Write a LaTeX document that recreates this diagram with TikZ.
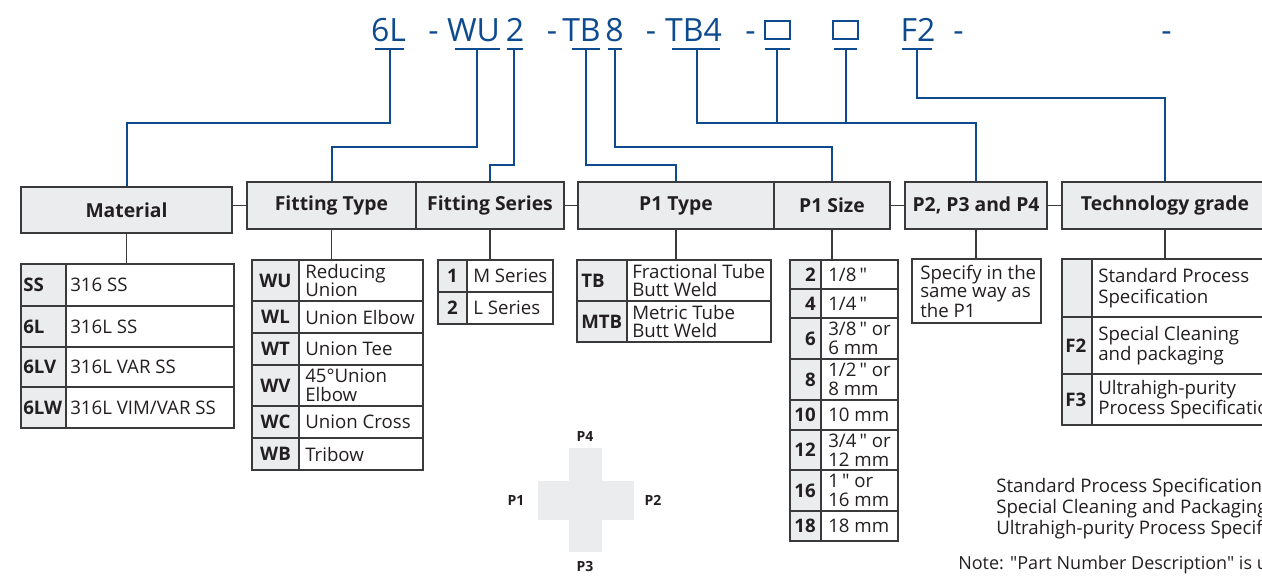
\documentclass[tikz,border=0pt]{standalone}
\usepackage{fontspec}
\setmainfont{Open Sans}[Ligatures=TeXOff]
\usepackage{tikz}
\usetikzlibrary{calc}
\definecolor{pn-blue}{HTML}{0D4A8E}
\definecolor{pn-line}{HTML}{3A3A3C}
\definecolor{pn-fill}{HTML}{EBECEE}
\definecolor{pn-text}{HTML}{231F20}

\tikzset{
  hdr/.style 2 args={draw=pn-line, fill=pn-fill, line width=1pt, minimum width=#1*0.75pt,
    minimum height=#2*0.75pt, inner sep=0pt, font=\fontsize{14.5}{17}\selectfont\bfseries, text=pn-text},
  bus/.style={pn-blue, line width=1.5pt},
  link/.style={pn-line, line width=0.9pt},
  cell/.style={draw=pn-line, line width=0.9pt},
  codecell/.style={cell, fill=pn-fill},
  code/.style={font=\fontsize{14}{14}\selectfont\bfseries, text=pn-text, inner sep=0pt},
  entry/.style={font=\fontsize{14}{14}\selectfont, text=pn-text, inner sep=0pt, align=left, anchor=west},
  pn/.style={font=\fontsize{24}{24}\selectfont, text=pn-blue, inner sep=0pt, anchor=base},
  pnbox/.style={draw=pn-blue, line width=1.5pt, minimum width=25*0.75pt, minimum height=18*0.75pt, inner sep=0pt},
  port/.style={font=\fontsize{10.5}{12}\selectfont\bfseries, text=pn-text, inner sep=0pt},
}

\begin{document}
\begin{tikzpicture}[x=0.75pt,y=-0.75pt]
  \useasboundingbox (0,0) rectangle (1262,576);
  \clip (0,0) rectangle (1262,576);

  % part number
  \node[pn] (pn-mat) at (388.5,41) {6L};
  \node[pn] (pn-d1) at (433.5,41) {-};
  \node[pn] (pn-ft) at (473.5,41) {WU};
  \node[pn] (pn-fs) at (515,41) {2};
  \node[pn] (pn-d2) at (552,41) {-};
  \node[pn] (pn-p1t) at (581.5,41) {TB};
  \node[pn] (pn-p1s) at (614.5,41) {8};
  \node[pn] (pn-d3) at (651,41) {-};
  \node[pn] (pn-p2) at (693.5,41) {TB4};
  \node[pn] (pn-d4) at (750.5,41) {-};
  \node[pnbox] (pn-p3) at (777.5,30) {};
  \node[pnbox] (pn-p4) at (845.5,30) {};
  \node[pn] (pn-tg) at (918,41) {F2};
  \node[pn] (pn-d5) at (958.5,41) {-};
  \node[pn] (pn-d6) at (1166.5,41) {-};

  \foreach \n/\xa/\xb/\xv in {mat/375/404/390, ft/455/500/477, fs/507/523/514, p1t/572/600/586,
      p1s/608/622/615, p2/672/720/697, p3/765/790/777, p4/834/857/846, tg/902/932/917} {
    \draw[bus] (\xa,49) -- (\xb,49);
    \coordinate (u-\n) at (\xv,49);
  }

  % headers
  \node[hdr={211}{46}] (mat) at (126.5,210) {Material};
  \node[hdr={169}{47}] (ft) at (331.5,205.5) {Fitting Type};
  \node[hdr={148}{47}] (fs) at (490,205.5) {Fitting Series};
  \node[hdr={196}{47}] (p1t) at (676,205.5) {P1 Type};
  \node[hdr={116}{47}] (p1s) at (832,205.5) {P1 Size};
  \node[hdr={142}{47}] (p2h) at (976,205.5) {P2, P3 and P4};
  \node[hdr={206}{47}] (tg) at (1165,205.5) {Technology grade};

  \draw[link] (ft.west) -- (ft.west -| mat.east);
  \draw[link] (fs.east) -- (p1t.west);
  \draw[link] (p1s.east) -- (p2h.west);
  \draw[link] (p2h.east) -- (tg.west);

  \draw[bus] (u-mat) -- ++(0,74) -| (mat.north);
  \draw[bus] (u-ft) -- ++(0,98) -| (ft.north);
  \draw[bus] (u-fs) -- ++(0,116) -| (fs.north);
  \draw[bus] (u-p1t) -- ++(0,116) -| (p1t.north);
  \draw[bus] (u-p1s) -- ++(0,98) -| (p1s.north);
  \draw[bus] (u-p2) -- ++(0,74) -| (p2h.north);
  \draw[bus] (u-p3) -- ++(0,74);
  \draw[bus] (u-p4) -- ++(0,74);
  \draw[bus] (u-tg) -- ++(0,49) -| (tg.north);

  \coordinate (mat-top) at (128,264);
  \coordinate (ft-top) at (331,260);
  \coordinate (fs-top) at (491,260);
  \coordinate (p1t-top) at (676,260);
  \coordinate (p1s-top) at (832,260);
  \coordinate (p2h-top) at (976,259);
  \coordinate (tg-top) at (1165,259);
  \foreach \n in {mat,ft,fs,p1t,p1s,p2h,tg}
    \draw[link] (\n.south) -- (\n.south |- \n-top);

  % material
  \foreach \ya/\yb/\cd/\tx [count=\i] in {264/306/SS/316 SS, 306/347/6L/316L SS,
      347/387/6LV/316L VAR SS, 387/428/6LW/{316L VIM/VAR SS}} {
    \draw[codecell] (21,\ya) rectangle (66,\yb);
    \draw[cell] (66,\ya) rectangle (234,\yb);
    \node[code, anchor=west] (mat-c\i) at (23,{(\ya+\yb)/2}) {\cd};
    \node[entry] (mat-e\i) at (70,{(\ya+\yb)/2}) {\tx};
  }

  % fitting type
  \foreach \ya/\yb/\cd/\tx [count=\i] in {260/301/WU/{Reducing\\Union}, 301/333/WL/Union Elbow,
      333/365/WT/Union Tee, 365/406/WV/{45°Union\\Elbow}, 406/438/WC/Union Cross, 438/470/WB/Tribow} {
    \draw[codecell] (252,\ya) rectangle (299,\yb);
    \draw[cell] (299,\ya) rectangle (423,\yb);
    \node[code] (ft-c\i) at (275.5,{(\ya+\yb)/2}) {\cd};
    \node[entry] (ft-e\i) at (305,{(\ya+\yb)/2}) {\tx};
  }

  % fitting series
  \foreach \ya/\yb/\cd/\tx [count=\i] in {260/292/1/M Series, 292/324/2/L Series} {
    \draw[codecell] (438,\ya) rectangle (467,\yb);
    \draw[cell] (467,\ya) rectangle (553,\yb);
    \node[code] (fs-c\i) at (452.5,{(\ya+\yb)/2}) {\cd};
    \node[entry] (fs-e\i) at (473,{(\ya+\yb)/2}) {\tx};
  }

  % p1 type
  \foreach \ya/\yb/\cd/\tx [count=\i] in {260/301/TB/{Fractional Tube\\Butt Weld},
      301/342/MTB/{Metric Tube\\Butt Weld}} {
    \draw[codecell] (577,\ya) rectangle (627,\yb);
    \draw[cell] (627,\ya) rectangle (771,\yb);
    \node[code, anchor=west] (p1t-c\i) at (581,{(\ya+\yb)/2}) {\cd};
    \node[entry] (p1t-e\i) at (632,{(\ya+\yb)/2}) {\tx};
  }

  % p1 size
  \foreach \ya/\yb/\cd/\tx [count=\i] in {260/289/2/{1/8\,"}, 289/318/4/{1/4\,"},
      318/359/6/{3/8\," or\\6 mm}, 359/400/8/{1/2\," or\\8 mm}, 400/430/10/10 mm,
      430/470/12/{3/4\," or\\12 mm}, 470/511/16/{1\," or\\16 mm}, 511/541/18/18 mm} {
    \draw[codecell] (790,\ya) rectangle (821,\yb);
    \draw[cell] (821,\ya) rectangle (898,\yb);
    \node[code, anchor=east] (p1s-c\i) at (816,{(\ya+\yb)/2}) {\cd};
    \node[entry] (p1s-e\i) at (828,{(\ya+\yb)/2}) {\tx};
  }

  % p2 p3 p4
  \draw[cell] (912,259) rectangle (1041,323);
  \node[entry, font=\fontsize{14}{13.5}\selectfont] (p2h-e1) at (920,291) {Specify in the\\same way as\\the P1};

  % technology grade
  \foreach \ya/\yb/\cd/\tx [count=\i] in {259/317/{}/{Standard Process\\Specification},
      317/374/F2/{Special Cleaning\\and packaging}, 374/425/F3/{Ultrahigh-purity\\Process Specification}} {
    \draw[codecell] (1062,\ya) rectangle (1092,\yb);
    \draw[cell] (1092,\ya) rectangle (1275,\yb);
    \node[code, anchor=west] (tg-c\i) at (1065,{(\ya+\yb)/2}) {\cd};
    \node[entry, font=\fontsize{14}{15.5}\selectfont] (tg-e\i) at (1098,{(\ya+\yb)/2}) {\tx};
  }

  % cross
  \fill[pn-fill] (569,448) rectangle (602,552);
  \fill[pn-fill] (538,481) rectangle (634,520);
  \node[port] (port4) at (585,436) {P4};
  \node[port] (port3) at (585,566) {P3};
  \node[port] (port1) at (516,500) {P1};
  \node[port] (port2) at (653,500) {P2};

  \node[entry, font=\fontsize{14}{15.75}\selectfont] (grades) at (996,509)
    {Standard Process Specification\\Special Cleaning and Packaging\\Ultrahigh-purity Process Specification};
  \node[entry, font=\fontsize{13.5}{14}\selectfont] (note) at (958,565)
    {Note: "Part Number Description" is u};
\end{tikzpicture}
\end{document}
